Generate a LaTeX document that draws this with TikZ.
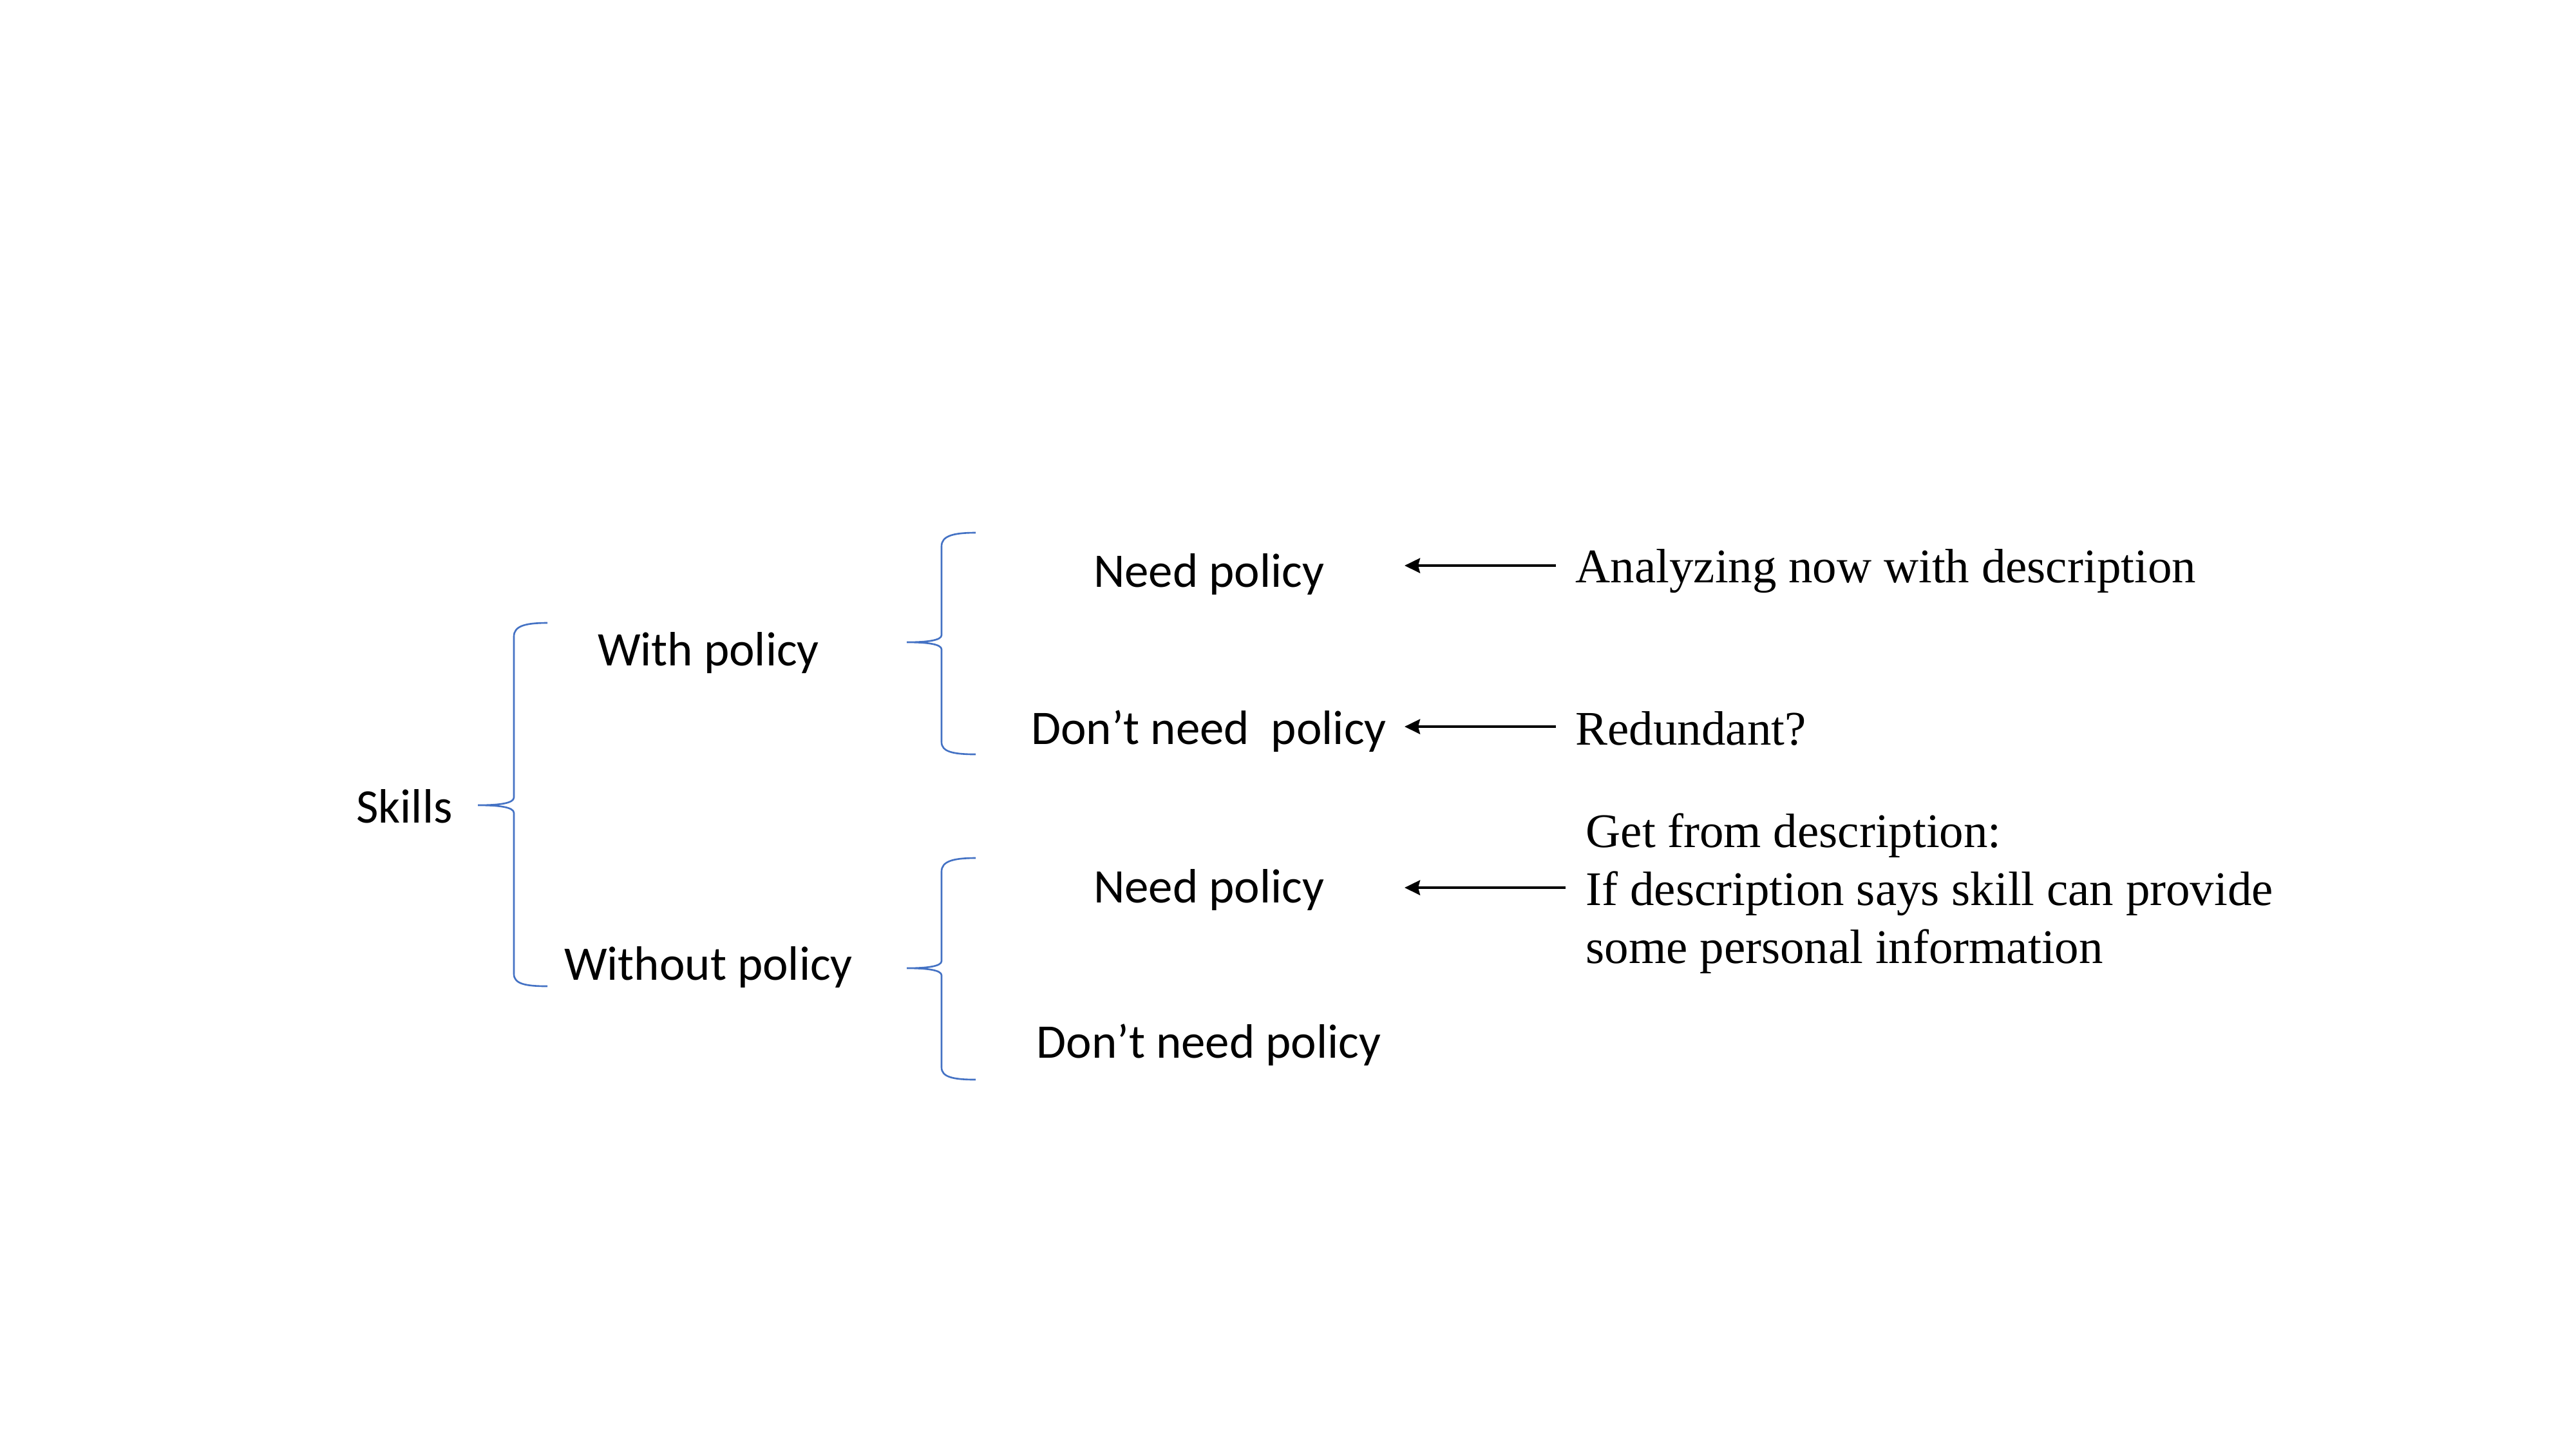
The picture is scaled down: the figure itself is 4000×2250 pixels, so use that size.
\documentclass[tikz,border=0pt]{standalone}
\usepackage{fontspec}
\setmainfont{Liberation Serif}
\newfontfamily\calib{Carlito}
\usetikzlibrary{arrows.meta}
\definecolor{bracec}{HTML}{4472C4}
\tikzset{
  sanslbl/.style={font=\calib\fontsize{21.3pt}{25.6pt}\selectfont, inner sep=0pt},
  seriflbl/.style={font=\fontsize{21.3pt}{25.6pt}\selectfont, inner sep=0pt, align=left},
  bracepath/.style={draw=bracec, line width=0.75pt},
  arr/.style={-{Stealth[length=0.24cm,width=0.23cm,inset=0.03cm]}, line width=1.1pt}
}
\begin{document}
\begin{tikzpicture}[x=0.01cm,y=-0.01cm]
\useasboundingbox (0,0) rectangle (4000,2250);
% labels
\node[sanslbl] (skills) at (628,1252) {Skills};
\node[sanslbl] (with) at (1100,1014) {With policy};
\node[sanslbl] (without) at (1100,1501) {Without policy};
\node[sanslbl] (np1) at (1877,892) {Need policy};
\node[sanslbl] (dnp1) at (1877,1135) {Don’t need\ \ policy};
\node[sanslbl] (np2) at (1877,1381) {Need policy};
\node[sanslbl] (dnp2) at (1877,1622) {Don’t need policy};
% annotations
\node[seriflbl, anchor=west] (ann1) at (2446,887) {Analyzing now with description};
\node[seriflbl, anchor=west] (ann2) at (2446,1131) {Redundant?};
\node[seriflbl, anchor=west] (ann3) at (2462,1387) {Get from description:\\If description says skill can provide\\some personal information};
% braces
\draw[bracepath] (850,967) .. controls (815,967) and (798,972) .. (798,988)
  -- (798,1238) .. controls (798,1247) and (775,1250) .. (742,1250)
  .. controls (775,1250) and (798,1253) .. (798,1262)
  -- (798,1512) .. controls (798,1527) and (815,1531) .. (850,1531);
\draw[bracepath] (1515,827) .. controls (1480,827) and (1462,832) .. (1462,848)
  -- (1462,986) .. controls (1462,994) and (1440,997) .. (1408,997)
  .. controls (1440,997) and (1462,1000) .. (1462,1008)
  -- (1462,1152) .. controls (1462,1167) and (1480,1171) .. (1515,1171);
\draw[bracepath] (1515,1332) .. controls (1480,1332) and (1462,1337) .. (1462,1353)
  -- (1462,1492) .. controls (1462,1500) and (1440,1503) .. (1408,1503)
  .. controls (1440,1503) and (1462,1506) .. (1462,1514)
  -- (1462,1657) .. controls (1462,1672) and (1480,1676) .. (1515,1676);
% arrows
\coordinate (t1) at (2416,878); \coordinate (h1) at (2181,878);
\coordinate (t2) at (2416,1128); \coordinate (h2) at (2181,1128);
\coordinate (t3) at (2431,1378); \coordinate (h3) at (2181,1378);
\draw[arr] (t1) -- (h1);
\draw[arr] (t2) -- (h2);
\draw[arr] (t3) -- (h3);
\end{tikzpicture}
\end{document}
